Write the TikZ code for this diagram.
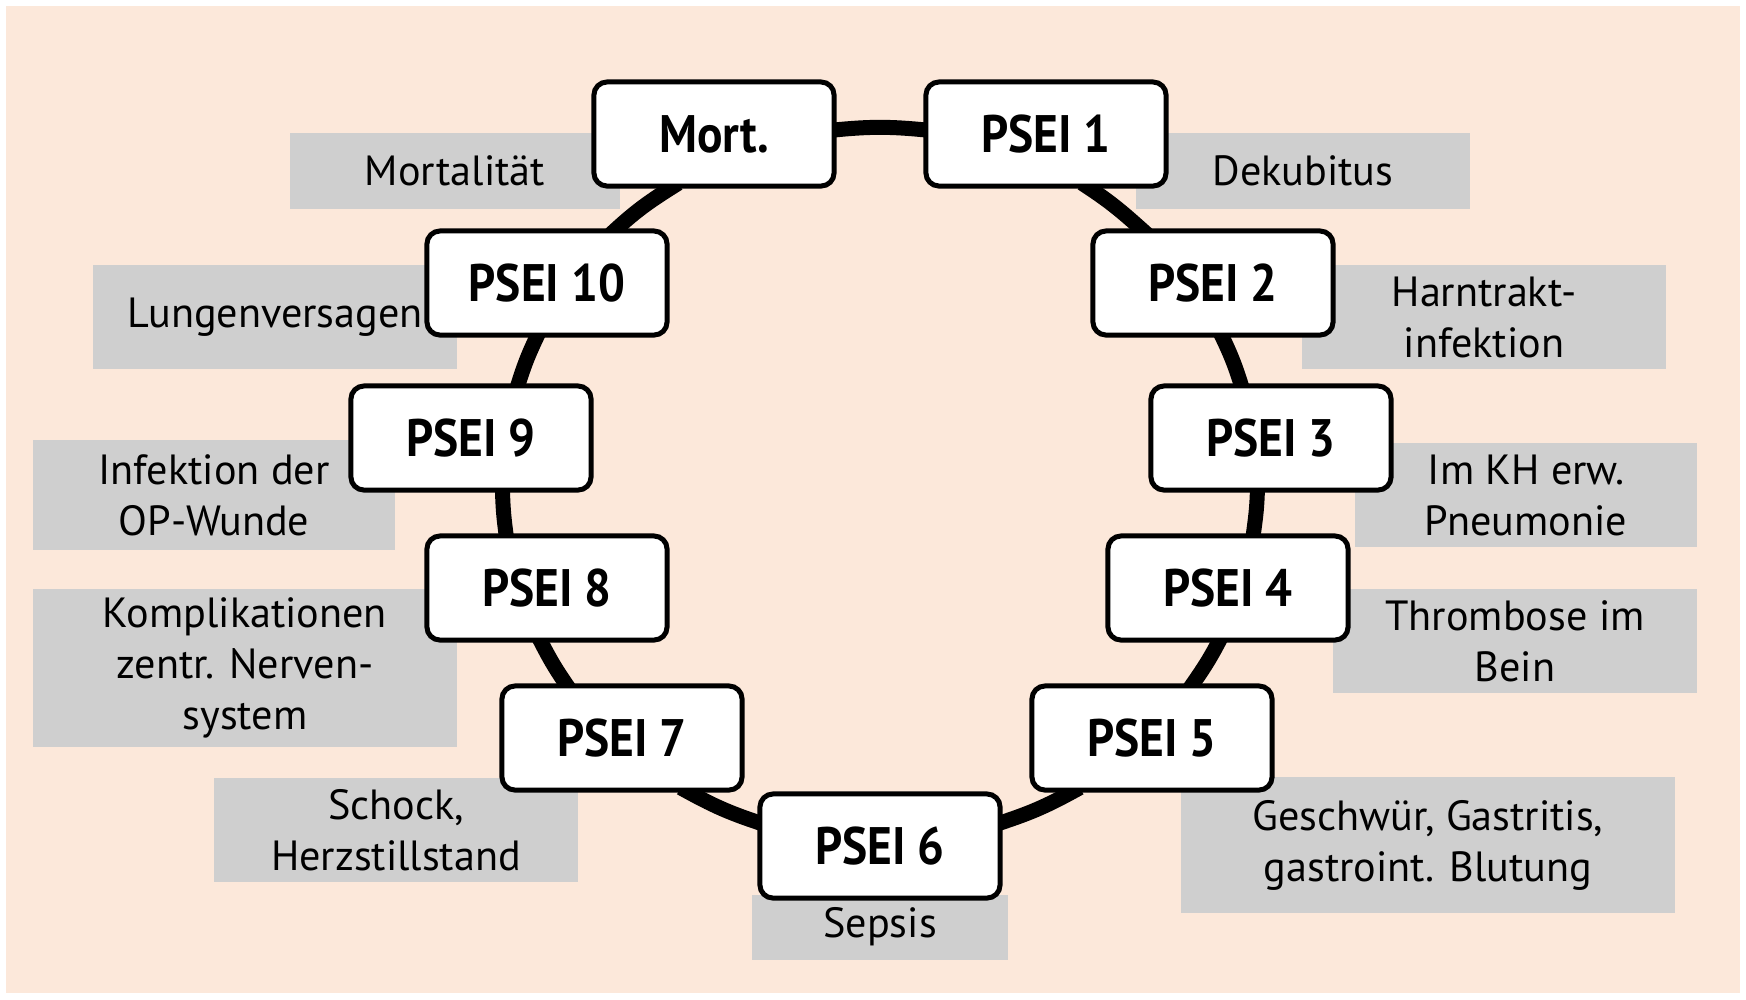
\documentclass[tikz,border=0pt]{standalone}
\usepackage{fontspec}
\setmainfont{PT Sans}
\newfontfamily\pseifont{PT Sans Bold}[FakeStretch=0.9]
\usepackage{tikz}
\usetikzlibrary{positioning,backgrounds}
\definecolor{peach}{HTML}{FCE8DA}
\definecolor{labelgrey}{HTML}{CFCFCF}

\begin{document}
\begin{tikzpicture}[x=0.01cm, y=0.01cm,
    psei/.style={draw, line width=0.05cm, rounded corners=0.13cm, fill=white,
        minimum width=2.40cm, minimum height=1.04cm, inner sep=0pt,
        font=\pseifont\fontsize{15}{18}\selectfont},
    befund/.style={fill=labelgrey, inner sep=0pt, align=center,
        font=\fontsize{12}{14.5}\selectfont},
    ring/.style={line width=0.15cm, shorten <=-0.1cm, shorten >=-0.1cm}]
    \useasboundingbox (0,0) rectangle (1746,-999);

    % the ring of indicators
    \node[psei] (mort)   at (714,-134)  {Mort.};
    \node[psei] (psei1)  at (1046,-134) {PSEI 1};
    \node[psei] (psei2)  at (1213,-283) {PSEI 2};
    \node[psei] (psei3)  at (1271,-438) {PSEI 3};
    \node[psei] (psei4)  at (1228,-588) {PSEI 4};
    \node[psei] (psei5)  at (1152,-738) {PSEI 5};
    \node[psei] (psei6)  at (880,-846)  {PSEI 6};
    \node[psei] (psei7)  at (622,-738)  {PSEI 7};
    \node[psei] (psei8)  at (547,-588)  {PSEI 8};
    \node[psei] (psei9)  at (471,-438)  {PSEI 9};
    \node[psei] (psei10) at (547,-283)  {PSEI 10};

    \begin{scope}[on background layer]
    \fill[white] (0,0) rectangle (1746,-999);
    \fill[peach] (6,-6) rectangle (1740,-993);

    \draw[ring] (mort.2) to[out=6,in=174] (psei1.178);
    \draw[ring] (psei1.309) to[out=-33,in=138] (psei2.143);
    \draw[ring] (psei2.280) to[out=-64,in=107] (psei3.119);
    \draw[ring] (psei3.256) to[out=-91,in=82] (psei4.65);
    \draw[ring] (psei4.260) to[out=-117,in=55] (psei5.53);
    \draw[ring] (psei5.214) to[out=-151,in=18] (psei6.11);
    \draw[ring] (psei6.169) to[out=162,in=-29] (psei7.321);
    \draw[ring] (psei7.136) to[out=125,in=-63] (psei8.264);
    \draw[ring] (psei8.127) to[out=98,in=-89] (psei9.300);
    \draw[ring] (psei9.49) to[out=73,in=-116] (psei10.259);
    \draw[ring] (psei10.38) to[out=43,in=-148] (mort.231);

    % grey boxes behind the indicators
    \node[befund, minimum width=3.30cm, minimum height=0.76cm] (lblmort) at (455,-171) {Mortalität};
    \node[befund, minimum width=3.33cm, minimum height=0.76cm] (lbl1) at (1303,-171) {Dekubitus};
    \node[befund, minimum width=3.63cm, minimum height=1.03cm] (lbl2) at (1484,-317) {Harntrakt-\\infektion};
    \node[befund, minimum width=3.42cm, minimum height=1.04cm] (lbl3) at (1526,-495) {Im KH erw.\\Pneumonie};
    \node[befund, minimum width=3.63cm, minimum height=1.03cm] (lbl4) at (1515,-641) {Thrombose im\\Bein};
    \node[befund, minimum width=4.93cm, minimum height=1.36cm] (lbl5) at (1428,-845) {Geschwür, Gastritis,\\gastroint. Blutung};
    \node[befund, minimum width=2.56cm, minimum height=0.65cm] (lbl6) at (880,-927) {Sepsis};
    \node[befund, minimum width=3.63cm, minimum height=1.03cm] (lbl7) at (396,-830) {Schock,\\Herzstillstand};
    \node[befund, minimum width=4.24cm, minimum height=1.57cm] (lbl8) at (245,-668) {Komplikationen\\zentr. Nerven-\\system};
    \node[befund, minimum width=3.62cm, minimum height=1.10cm] (lbl9) at (214,-495) {Infektion der\\OP-Wunde};
    \node[befund, minimum width=3.63cm, minimum height=1.03cm] (lbl10) at (275,-317) {Lungenversagen};
    \end{scope}
\end{tikzpicture}
\end{document}
